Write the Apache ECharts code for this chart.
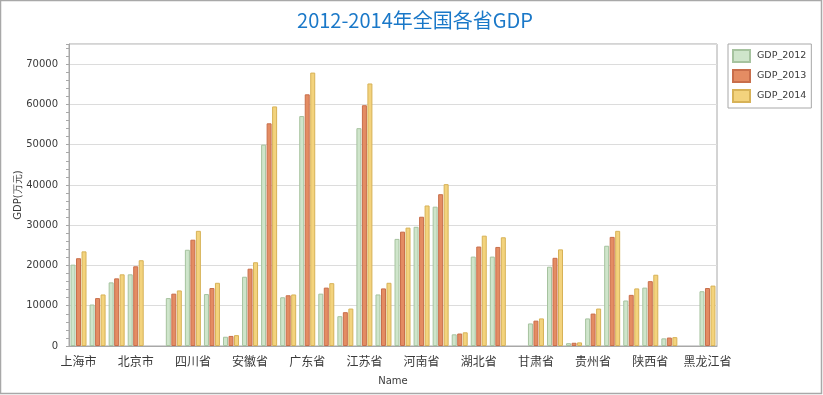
<!DOCTYPE html>
<html><head><meta charset="utf-8">
<script src="https://cdn.jsdelivr.net/npm/echarts@6/dist/echarts.min.js"></script>
<style>html,body{margin:0;padding:0;background:#fff}#c{width:823px;height:395px}</style>
</head><body><div id="c"></div>
<script>
const categories = ['上海市','云南省','内蒙古自治区','北京市','台湾省','吉林省','四川省','天津市','宁夏回族自治区','安徽省','山东省','山西省','广东省','广西壮族自治区','新疆维吾尔自治区','江苏省','江西省','河北省','河南省','浙江省','海南省','湖北省','湖南省','澳门特别行政区','甘肃省','福建省','西藏自治区','贵州省','辽宁省','重庆市','陕西省','青海省','香港特别行政区','黑龙江省'];
const gdp2012 = [20200,10300,15800,17800,null,11900,23900,12900,2300,17200,50000,12100,57100,13000,7400,54100,12800,26600,29600,34600,2900,22200,22200,null,5600,19700,700,6850,24900,11300,14500,1900,null,13600];
const gdp2013 = [21800,11900,16800,19800,null,13000,26400,14400,2500,19200,55300,12600,62500,14500,8400,59800,14300,28400,32100,37700,3100,24700,24600,null,6300,21900,800,8050,27100,12700,16100,2100,null,14400];
const gdp2014 = [23500,12800,17800,21300,null,13800,28600,15700,2700,20800,59500,12800,67900,15600,9300,65200,15700,29400,34900,40200,3400,27400,27000,null,6850,24000,900,9300,28600,14300,17700,2200,null,15000];
const seriesNames = ['GDP_2012','GDP_2013','GDP_2014'];
const yTicks = {min:0, max:75000, interval:10000};

const fills = ['#cfe5cb','#e48c63','#f3d37d'];
const borders = ['#a6c39f','#c86e4b','#d7b257'];
const datasets = [gdp2012, gdp2013, gdp2014];
const chart = echarts.init(document.getElementById('c'), null, {renderer:'canvas'});
const txt = '#3a3a3a';
chart.setOption({
  animation:false,
  title:{text:'2012-2014年全国各省GDP', left:410, textAlign:'center', top:5,
    textStyle:{fontFamily:'Noto Sans CJK SC', fontSize:20, fontWeight:'normal', color:'#1a78c8'}},
  legend:{orient:'vertical', left:728, top:44, padding:[5,5,5,4], itemGap:6,
    itemWidth:17, itemHeight:12, borderColor:'#a8a8a8', borderWidth:1, icon:'rect',
    textStyle:{fontFamily:'DejaVu Sans', fontSize:9.5, color:txt, padding:[0,0,0,2]},
    data:seriesNames},
  grid:{left:69, right:106, top:44, bottom:49, show:true, borderColor:'#a8a8a8', borderWidth:1, containLabel:false, outerBoundsMode:'none'},
  xAxis:[{type:'category', data:categories, name:'Name', nameLocation:'middle', nameGap:30,
    nameTextStyle:{fontFamily:'DejaVu Sans', fontSize:10, color:txt},
    axisLine:{lineStyle:{color:'#a8a8a8'}},
    axisTick:{interval:0, length:3, lineStyle:{color:'#a8a8a8'}},
    axisLabel:{interval:2, margin:9, fontFamily:'Noto Sans CJK SC', fontSize:12, color:txt}},
   {type:'category', data:categories, position:'bottom', gridIndex:0,
    axisLine:{show:false}, axisLabel:{show:false},
    axisTick:{interval:2, alignWithLabel:true, length:5, lineStyle:{color:'#a8a8a8'}}}],
  yAxis:{type:'value', min:yTicks.min, max:yTicks.max, interval:yTicks.interval,
    name:'GDP(万元)', nameLocation:'middle', nameGap:46, nameMoveOverlap:false,
    nameTextStyle:{fontFamily:'DejaVu Sans', fontSize:10, color:txt},
    axisLine:{show:true, lineStyle:{color:'#a8a8a8'}},
    axisTick:{show:true, length:3, lineStyle:{color:'#a8a8a8'}},
    minorTick:{show:true, splitNumber:5, length:3, lineStyle:{color:'#a8a8a8'}},
    splitLine:{lineStyle:{color:'#dcdcdc'}},
    axisLabel:{showMaxLabel:false, margin:11, fontFamily:'DejaVu Sans', fontSize:10, color:txt,
      formatter:function(v){return String(v);}}},
  series: seriesNames.map((n,i)=>({name:n, type:'bar', xAxisIndex:0, data:datasets[i],
    barWidth:5, barGap:'10%',
    itemStyle:{color:fills[i], borderColor:borders[i], borderWidth:1}})),
  graphic:[{type:'rect', shape:{x:0.5,y:0.5,width:821,height:393}, style:{fill:null, stroke:'#a8a8a8', lineWidth:1.5}, silent:true}]
});
</script></body></html>
